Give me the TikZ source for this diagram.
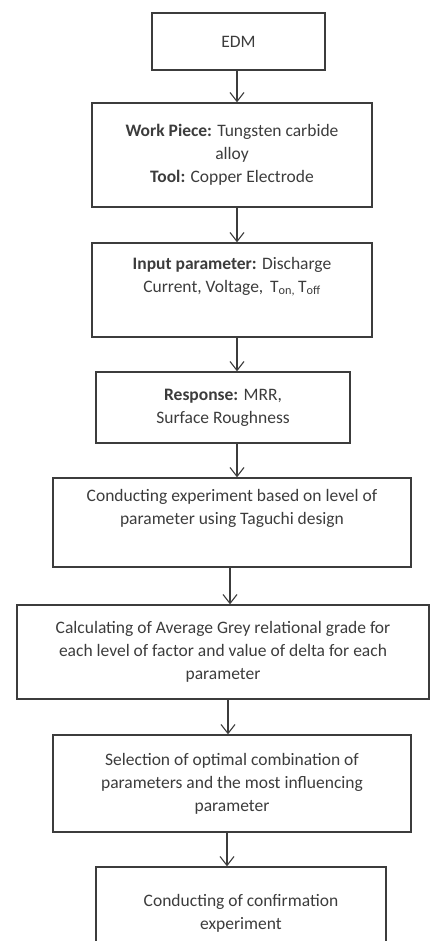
\documentclass[tikz,border=0pt]{standalone}
\usepackage{fontspec}
\setmainfont{Carlito}
\usetikzlibrary{arrows.meta}
\definecolor{inkgray}{HTML}{3C3C3C}
\begin{document}
\begin{tikzpicture}[x=1pt, y=-1pt, >={Straight Barb[length=9pt,width=14pt]},
    every node/.style={font=\fontsize{17.5}{23}\selectfont, text=inkgray},
    stepbox/.style={draw=inkgray, line width=1.3pt, align=center, inner sep=0pt},
    flow/.style={->, draw=inkgray, line width=1.1pt}]
    % page frame (same size as the reference)
    \useasboundingbox (0,0) rectangle (430,941);

    % 1. process boxes, placed at their centres
    \node[stepbox, minimum width=173pt, minimum height=57pt] (edm) at (238.5,41.5) {EDM};
    \node[stepbox, minimum width=280pt, minimum height=104pt] (work) at (232,155)
        {\textbf{Work Piece:} Tungsten carbide\\alloy\\\textbf{Tool:} Copper Electrode};
    \node[stepbox, minimum width=280pt, minimum height=94pt] (input) at (232,290)
        {\textbf{Input parameter:} Discharge\\Current, Voltage, \,T\textsubscript{on,}\,T\textsubscript{off}\\[8pt]};
    \node[stepbox, minimum width=254pt, minimum height=71pt] (resp) at (223,407.5)
        {\textbf{Response:} MRR,\\Surface Roughness};
    \node[stepbox, minimum width=358pt, minimum height=89pt] (expt) at (232,522.5)
        {Conducting experiment based on level of\\parameter using Taguchi design\\[8pt]};
    \node[stepbox, minimum width=412pt, minimum height=94pt] (grey) at (223,652)
        {Calculating of Average Grey relational grade for\\each level of factor and value of delta for each\\parameter};
    \node[stepbox, minimum width=358pt, minimum height=97pt] (optim) at (232,783.5)
        {Selection of optimal combination of\\parameters and the most influencing\\parameter};
    % last box runs past the lower page edge, as in the reference
    \node[stepbox, minimum width=290pt, minimum height=92pt] (confirm) at (241,913)
        {Conducting of confirmation\\experiment};

    % 2. arrows straight down between the boxes (shifted to where the reference has them)
    \foreach \a/\b/\dx in {edm/work/-1.5, work/input/5, input/resp/5, resp/expt/14,
                           expt/grey/-2, grey/optim/5, optim/confirm/-5}
        \draw[flow] ([xshift=\dx pt]\a.south) -- ([xshift=\dx pt]\a.south |- \b.north);
\end{tikzpicture}
\end{document}
